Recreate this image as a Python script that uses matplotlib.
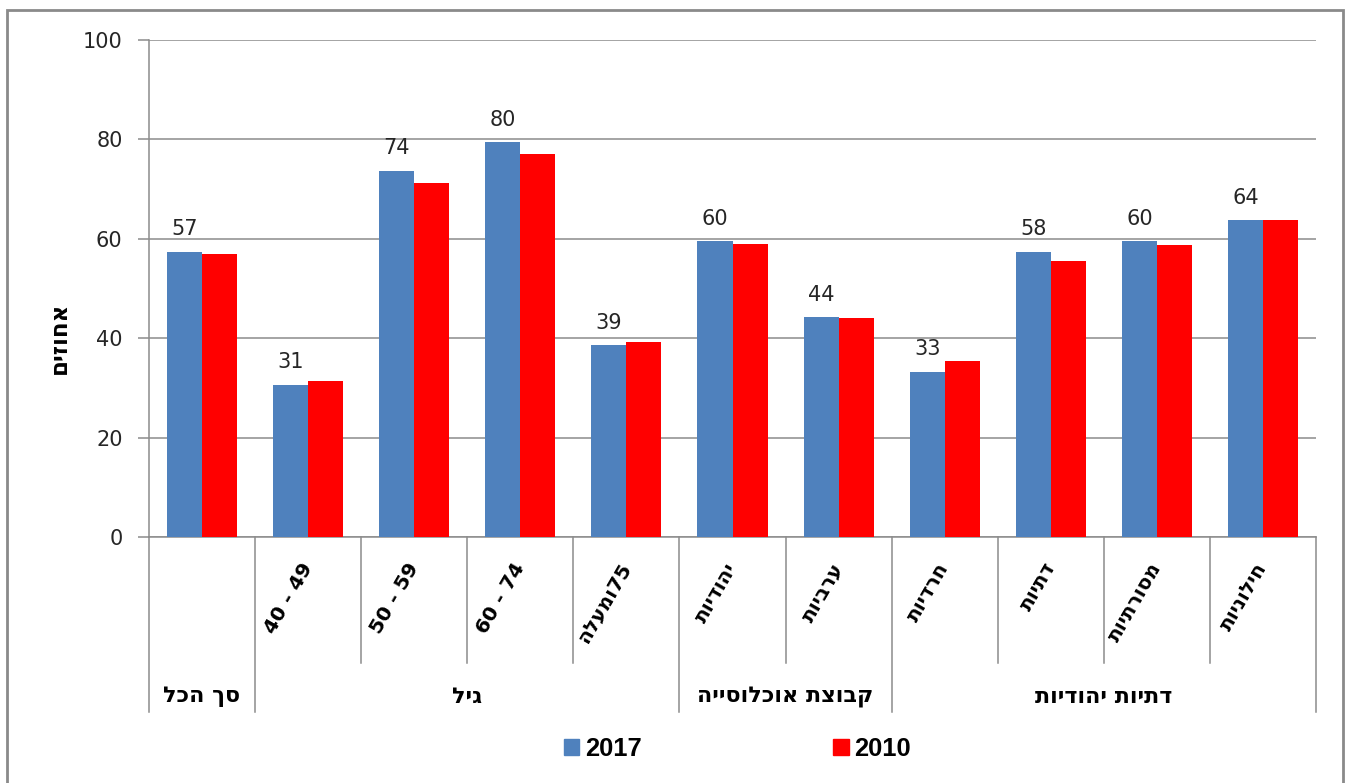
import numpy as np
import matplotlib.pyplot as plt
from matplotlib.patches import Patch, Rectangle

# data (percent)
categories = ['סך הכל', '40 - 49', '50 - 59', '60 - 74', '75ומעלה',
              'יהודיות', 'ערביות', 'חרדיות', 'דתיות', 'מסורתיות', 'חילוניות']
vals_2017 = [57.4, 30.6, 73.7, 79.4, 38.6, 59.5, 44.2, 33.2, 57.4, 59.5, 63.7]
vals_2010 = [56.9, 31.4, 71.3, 77.0, 39.3, 59.0, 44.0, 35.5, 55.6, 58.7, 63.7]
labels_2017 = [57, 31, 74, 80, 39, 60, 44, 33, 58, 60, 64]
groups = ['סך הכל', 'גיל', 'קבוצת אוכלוסייה', 'דתיות יהודיות']
group_spans = [(0, 0), (1, 4), (5, 6), (7, 10)]
ylabel = 'אחוזים'

BLUE = '#4F81BD'
RED = '#FF0000'
GREY = '#8C8C8C'
TXT = '#262626'
FONT = ['DejaVu Sans']


def vis(s):
    # no bidi in matplotlib: flip hebrew, keep digit runs left-to-right
    if not any('\u0590' <= c <= '\u05ff' for c in s):
        return s
    out, run = [], ''
    for c in reversed(s):
        if c.isdigit():
            run = c + run
        else:
            if run:
                out.append(run)
                run = ''
            out.append(c)
    if run:
        out.append(run)
    return ''.join(out)


fig = plt.figure(figsize=(13.46, 7.83), dpi=100)
ax = fig.add_axes([149 / 1346, 1 - 537 / 783, (1316 - 149) / 1346, (537 - 40) / 783])

x = np.arange(len(categories))
w = 0.33
ax.bar(x - w / 2, vals_2017, w, color=BLUE, zorder=3)
ax.bar(x + w / 2, vals_2010, w, color=RED, zorder=3)

for xi, v, lab in zip(x, vals_2017, labels_2017):
    ax.annotate(str(lab), (xi - w / 2, v), xytext=(0, 9), textcoords='offset points',
                ha='center', va='bottom', fontsize=15, family=FONT, color=TXT)

ax.set_xlim(-0.5, len(categories) - 0.5)
ax.set_ylim(0, 100)
ax.set_yticks(range(0, 101, 20))
ax.yaxis.grid(True, color=GREY, lw=1.1, zorder=0)
ax.set_xticks([])
ax.tick_params(axis='y', length=8, color=GREY, width=1.1, pad=11, labelsize=15, labelcolor=TXT)
for t in ax.get_yticklabels():
    t.set_family(FONT)
for s in ['top', 'right']:
    ax.spines[s].set_visible(False)
ax.spines['left'].set_color(GREY)
ax.spines['bottom'].set_color(GREY)
ax.spines['left'].set_linewidth(1.1)
ax.spines['bottom'].set_linewidth(1.1)

fig.text(59 / 1346, 1 - 338 / 783, vis(ylabel), rotation=90, ha='center', va='center',
         family=FONT, fontsize=16.5, fontweight='bold', color='black')

# category labels, rotated
tr = ax.get_xaxis_transform()
for xi, c in zip(x, categories):
    if xi == 0:
        continue
    ax.text(xi, -0.055, vis(c), transform=tr, rotation=60, rotation_mode='anchor',
            ha='right', va='center', fontsize=14.5, fontweight='bold', family=FONT)

# divider lines below the axis
group_edges = {g[0] - 0.5 for g in group_spans} | {len(categories) - 0.5}
for e in np.arange(-0.5, len(categories), 1.0):
    end = -0.352 if e in group_edges else -0.2535
    ax.plot([e, e], [0, end], transform=tr, color=GREY, lw=1.1, clip_on=False)

for g, (a, b) in zip(groups, group_spans):
    ax.text((a + b) / 2, -0.322, vis(g), transform=tr, ha='center', va='center',
            fontsize=16, fontweight='bold', family=FONT)

handles = [Patch(color=BLUE, label='2017'), Patch(color=RED, label='2010')]
fig.legend(handles=handles, loc='center', bbox_to_anchor=(737.5 / 1346, 1 - 749 / 783), ncol=2,
           frameon=False, handlelength=0.6, handleheight=0.6, handletextpad=0.23,
           columnspacing=7.5, borderpad=0,
           prop={'family': 'Liberation Sans', 'weight': 'bold', 'size': 18.4})

fig.patches.append(Rectangle((7 / 1346, -0.01), (1343 - 7) / 1346, 1 - 10 / 783 + 0.01,
                             transform=fig.transFigure, fill=False, edgecolor='#8A8A8A', lw=2))

fig.savefig('out.png', dpi=100)
